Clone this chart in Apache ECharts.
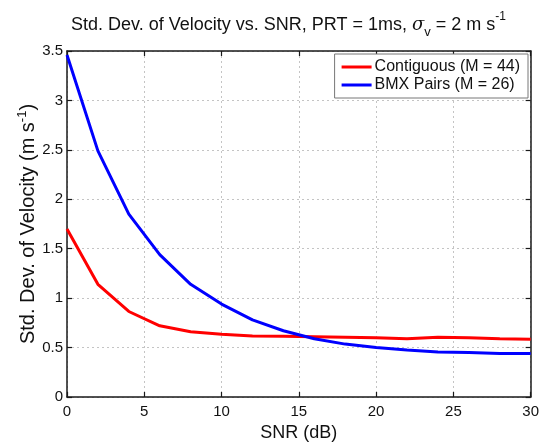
<!DOCTYPE html>
<html>
<head>
<meta charset="utf-8">
<script src="https://cdn.jsdelivr.net/npm/echarts@6/dist/echarts.min.js"></script>
<style>
  html, body { margin: 0; padding: 0; background: #fff; }
  #chart { width: 542px; height: 447px; }
</style>
</head>
<body>
<div id="chart"></div>
<script>
// SNR values in dB
const snr = [0, 2, 4, 6, 8, 10, 12, 14, 16, 18, 20, 22, 24, 26, 28, 30]
// std. dev. of velocity (m/s)
const contiguous = [1.70, 1.14, 0.865, 0.72, 0.66, 0.634, 0.618, 0.614, 0.61, 0.605, 0.60, 0.59, 0.605, 0.60, 0.59, 0.585]
const bmxPairs = [3.46, 2.49, 1.85, 1.44, 1.14, 0.94, 0.78, 0.67, 0.59, 0.535, 0.50, 0.475, 0.455, 0.45, 0.44, 0.44]

const seriesNames = ['Contiguous (M = 44)', 'BMX Pairs (M = 26)']

const font = 'Liberation Sans, Arial, sans-serif'

const chart = echarts.init(document.getElementById('chart'))

const gridLine = { show: true, lineStyle: { color: '#c4c4c4', type: [2, 3], width: 1 } }
const frameLine = { show: true, onZero: false, lineStyle: { color: '#1a1a1a', width: 1.5 } }
const tick = { show: true, inside: true, length: 5, lineStyle: { color: '#1a1a1a', width: 1.2 } }

const pairs = (ys) => snr.map((x, i) => [x, ys[i]])

const option = {
  animation: false,
  backgroundColor: '#fff',
  textStyle: { fontFamily: font },
  title: {
    text: 'Std. Dev. of Velocity vs. SNR, PRT = 1ms, {sig|σ}{sub|v} = 2 m s{sup|-1}',
    left: 66,
    top: 6,
    textStyle: {
      fontFamily: font,
      fontSize: 18,
      fontWeight: 'normal',
      color: '#111',
      lineHeight: 28,
      rich: {
        sig: { fontFamily: 'DejaVu Serif', fontStyle: 'italic', fontSize: 18, color: '#111' },
        sub: { fontSize: 13, lineHeight: 12, verticalAlign: 'bottom', color: '#111' },
        sup: { fontSize: 12, lineHeight: 11, verticalAlign: 'top', color: '#111' }
      }
    }
  },
  legend: {
    data: seriesNames,
    orient: 'vertical',
    right: 14,
    top: 54,
    padding: [5, 8, 5, 7],
    itemGap: 2,
    itemWidth: 30,
    itemHeight: 16,
    icon: 'path://M0,0 L30,0 L30,3 L0,3 Z',
    backgroundColor: '#fff',
    borderColor: '#777',
    borderWidth: 1,
    borderRadius: 0,
    textStyle: { fontFamily: font, fontSize: 16, color: '#111', padding: [0, 0, 0, -2] }
  },
  grid: { left: 67, right: 9, top: 51, bottom: 41 },
  xAxis: [
    {
      type: 'value',
      min: 0,
      max: 30,
      interval: 5,
      name: 'SNR (dB)',
      nameLocation: 'middle',
      nameGap: 27,
      nameMoveOverlap: false,
      nameTextStyle: { fontFamily: font, fontSize: 18, color: '#111' },
      axisLine: frameLine,
      axisTick: tick,
      axisLabel: { fontFamily: font, fontSize: 15, color: '#111', margin: 7 },
      splitLine: gridLine
    },
    {
      type: 'value',
      position: 'top',
      min: 0,
      max: 30,
      interval: 5,
      axisLine: frameLine,
      axisTick: tick,
      axisLabel: { show: false },
      splitLine: { show: false }
    }
  ],
  yAxis: [
    {
      type: 'value',
      min: 0,
      max: 3.5,
      interval: 0.5,
      name: 'Std. Dev. of Velocity (m s{sup|-1})',
      nameLocation: 'middle',
      nameGap: 27,
      nameMoveOverlap: false,
      nameTextStyle: {
        fontFamily: font,
        fontSize: 20,
        color: '#111',
        lineHeight: 24,
        rich: {
          sup: { fontSize: 13, lineHeight: 12, verticalAlign: 'top', color: '#111' }
        }
      },
      axisLine: frameLine,
      axisTick: tick,
      axisLabel: { fontFamily: font, fontSize: 15, color: '#111', margin: 4 },
      splitLine: gridLine
    },
    {
      type: 'value',
      position: 'right',
      min: 0,
      max: 3.5,
      interval: 0.5,
      axisLine: frameLine,
      axisTick: tick,
      axisLabel: { show: false },
      splitLine: { show: false }
    }
  ],
  series: [
    {
      name: seriesNames[0],
      type: 'line',
      data: pairs(contiguous),
      symbol: 'none',
      lineStyle: { color: '#ff0000', width: 3 },
      itemStyle: { color: '#ff0000' }
    },
    {
      name: seriesNames[1],
      type: 'line',
      data: pairs(bmxPairs),
      symbol: 'none',
      lineStyle: { color: '#0000ff', width: 3 },
      itemStyle: { color: '#0000ff' }
    }
  ]
}

chart.setOption(option)
</script>
</body>
</html>
